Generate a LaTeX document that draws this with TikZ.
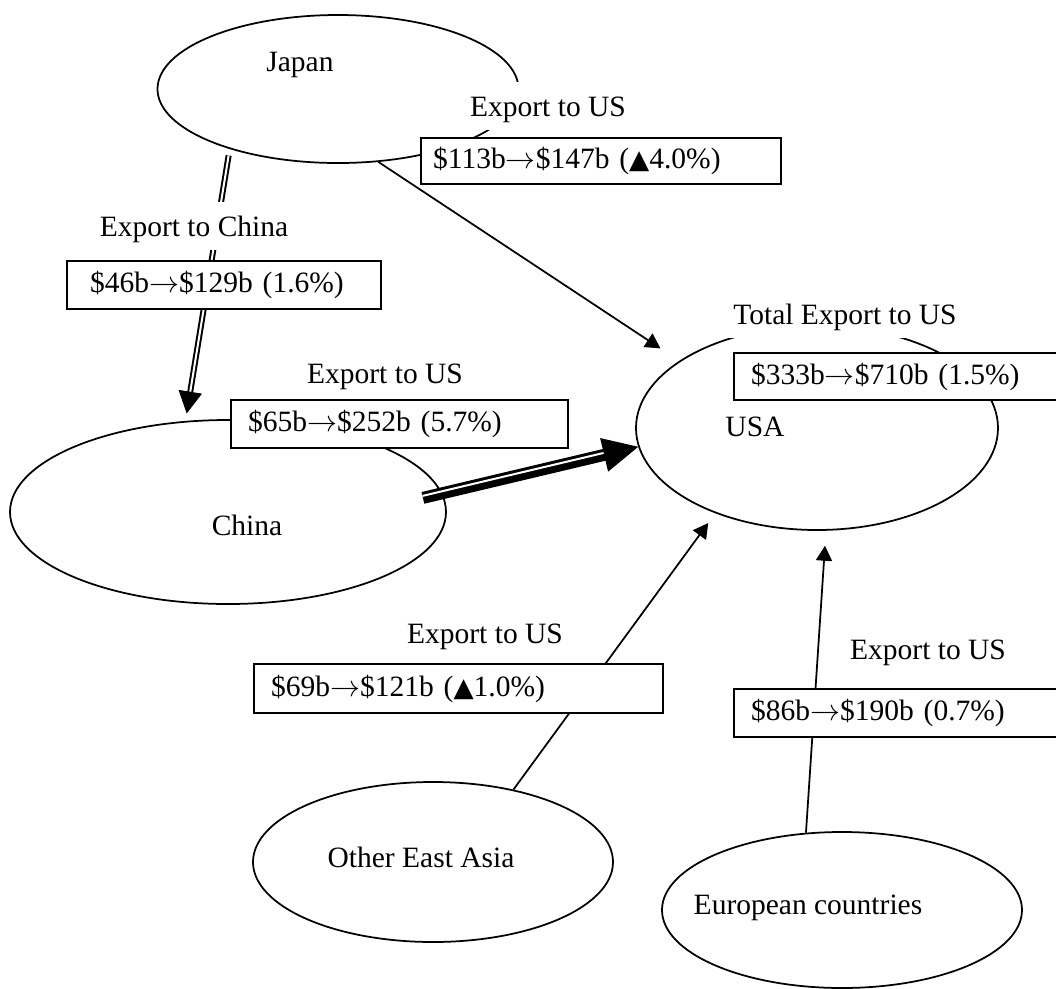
\documentclass[tikz,border=0pt]{standalone}
\usepackage{fontspec}
\setmainfont{Liberation Serif}
\newfontfamily\symfont{DejaVu Sans}
\newcommand{\toarr}{\ensuremath{\rightarrow}}
\newcommand{\uptri}{{\symfont\fontsize{10.5}{12}\selectfont ▲}}
\usetikzlibrary{shapes.geometric,arrows.meta,calc}

\begin{document}
\begin{tikzpicture}[x=0.4pt, y=-0.4pt]
  \tikzstyle{every node}=[font=\fontsize{11.8}{14}\selectfont]
  \tikzstyle{region}=[draw, ellipse, line width=0.7pt, inner sep=0pt]
  \tikzstyle{lbl}=[fill=white, inner xsep=3pt, inner ysep=2pt, text height=12pt, text depth=3.4pt]
  \tikzstyle{valbox}=[draw, fill=white, line width=0.9pt, anchor=north west, inner xsep=6.8pt, inner ysep=1pt, align=left, minimum height=19.2pt]
  \tikzstyle{flow}=[line width=0.7pt, -{Triangle[length=6pt, width=6.4pt]}]
  \useasboundingbox (0,0) rectangle (1056,989);
% regions
  \node[region, minimum width=144.4pt, minimum height=59.2pt] (japan) at (338,89) {};
  \node[region, minimum width=174.4pt, minimum height=73.6pt] (china) at (228,512) {};
  \node[region, minimum width=144.8pt, minimum height=81.6pt] (usa) at (817,428) {};
  \node[region, minimum width=144pt, minimum height=64pt] (oea) at (433,862) {};
  \node[region, minimum width=144pt, minimum height=62.4pt] (euro) at (842,910) {};
  \node (japanTxt) at (300,65) {Japan};
  \node (chinaTxt) at (247,525) {China};
  \node (usaTxt) at (755,427) {USA};
  \node (oeaTxt) at (421,857) {Other East Asia};
  \node (euroTxt) at (808,908) {European countries};
% flows
  \draw[flow, shorten >=9pt] (japan.-61) -- (usa.154);
  \draw[flow, shorten >=4.8pt] (oea.42) -- (usa.220);
  \draw[flow, shorten >=6pt] (euro.115) -- (usa.-85);
  \draw[line width=0.8pt, double, double distance=0.8pt, shorten <=2.6pt, shorten >=11.5pt] (japan.209) -- (china.115);
  \draw[-{Triangle[length=8.8pt, width=9.4pt]}, shorten >=3pt] ($(china.115)!11.8pt!(japan.209)$) -- (china.115);
  \draw[line width=4.8pt, shorten <=-8pt, shorten >=13.5pt] (china.5) -- (usa.186);
  \draw[white, line width=0.8pt, shorten <=-8pt, shorten >=13.5pt, transform canvas={shift={(-0.17pt,0.78pt)}}] (china.5) -- (usa.186);
  \draw[-{Triangle[length=14pt, width=13.7pt]}] ($(usa.186)!14pt!(china.5)$) -- (usa.186);
% labels and values
  \node[lbl] (jLbl) at (548,106) {Export to US};
  \node[lbl] (jcLbl) at (194,226) {Export to China};
  \node[lbl] (cLbl) at (385,373) {Export to US};
  \node[lbl] (uLbl) at (845,314) {Total Export to US};
  \node[lbl] (oLbl) at (485,633) {Export to US};
  \node[lbl] (eLbl) at (928,649) {Export to US};
  \node[valbox, inner xsep=4.8pt, text width=134.4pt, minimum height=18.4pt] (jVal) at (420,137) {\$113b\toarr\$147b (\uptri4.0\%)};
  \node[valbox, inner xsep=9.2pt, text width=107.2pt] (jcVal) at (66,260) {\$46b\toarr\$129b (1.6\%)};
  \node[valbox, text width=121.2pt] (cVal) at (230,399) {\$65b\toarr\$252b (5.7\%)};
  \node[valbox, text width=122.4pt, minimum height=18.8pt] (uVal) at (733,352) {\$333b\toarr\$710b (1.5\%)};
  \node[valbox, text width=150pt, minimum height=19.6pt] (oVal) at (253,663) {\$69b\toarr\$121b (\uptri1.0\%)};
  \node[valbox, text width=122.4pt] (eVal) at (733,688) {\$86b\toarr\$190b (0.7\%)};
\end{tikzpicture}
\end{document}
